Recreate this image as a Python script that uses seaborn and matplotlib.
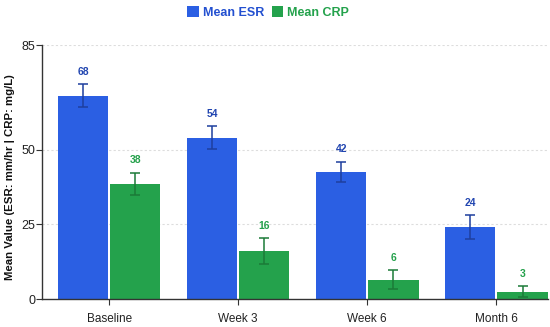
import matplotlib
matplotlib.use("Agg")
import matplotlib.pyplot as plt
import seaborn as sns
import pandas as pd
import numpy as np
from matplotlib.patches import Patch

timepoints = ["Baseline", "Week 3", "Week 6", "Month 6"]
esr_mean = [68, 54, 42.5, 24]
crp_mean = [38.5, 16, 6.5, 2.5]
esr_err = [3.8, 3.9, 3.5, 4.0]
crp_err = [3.8, 4.3, 3.2, 1.8]
esr_labels = ["68", "54", "42", "24"]
crp_labels = ["38", "16", "6", "3"]
series = ["Mean ESR", "Mean CRP"]

blue = "#2b5fe3"
green = "#24a24c"
blue_dark = "#1e3f9e"
green_dark = "#1b7a38"
blue_text = "#2145b0"
green_text = "#23a04a"

df = pd.DataFrame({
    "Timepoint": timepoints * 2,
    "Series": [series[0]] * 4 + [series[1]] * 4,
    "Value": esr_mean + crp_mean,
})

sns.set_theme(style="white")
plt.rcParams["font.family"] = ["Liberation Sans", "DejaVu Sans"]

fig = plt.figure(figsize=(5.5, 3.27), dpi=100)
ax = fig.add_axes([42 / 550, 28 / 327, 506 / 550, 254 / 327])

sns.barplot(data=df, x="Timepoint", y="Value", hue="Series",
            palette=[blue, green], order=timepoints, hue_order=series,
            width=0.81, gap=0.04, errorbar=None, legend=False, ax=ax,
            edgecolor="none", saturation=1)

bar_containers = list(ax.containers)
for i, cont in enumerate(bar_containers):
    means = esr_mean if i == 0 else crp_mean
    errs = esr_err if i == 0 else crp_err
    labs = esr_labels if i == 0 else crp_labels
    ecol = blue_dark if i == 0 else green_dark
    tcol = blue_text if i == 0 else green_text
    for j, bar in enumerate(cont.patches):
        xc = bar.get_x() + bar.get_width() / 2
        ax.errorbar(xc, means[j], yerr=errs[j], color=ecol, capsize=3.3,
                    elinewidth=1.1, capthick=1.1, fmt="none", zorder=4)
        ax.text(xc, means[j] + errs[j] + 2.4, labs[j], ha="center", va="bottom",
                color=tcol, fontsize=7.5, fontweight="bold")

ax.set_ylim(0, 85)
ax.set_xlim(-0.52, 3.40)
ax.set_yticks([0, 25, 50, 85])
ax.set_yticklabels(["0", "25", "50", "85"])
ax.tick_params(axis="y", labelsize=9, length=4, width=0.8, color="#333333", pad=1,
               left=True, labelcolor="#222222")
ax.tick_params(axis="x", labelsize=8.5, length=4, width=0.8, color="#333333", pad=6,
               bottom=True, labelcolor="#222222")
ax.set_xlabel("")
ax.set_ylabel("Mean Value (ESR: mm/hr | CRP: mg/L)", fontsize=8.2, fontweight="bold",
              labelpad=5, color="#111111")
ax.yaxis.set_label_coords(-0.053, 0.48)
for y in [25, 50, 85]:
    ax.axhline(y, color="#dddddd", linestyle=(0, (2, 2)), linewidth=0.8, zorder=0)
for s in ["top", "right"]:
    ax.spines[s].set_visible(False)
for s in ["left", "bottom"]:
    ax.spines[s].set_color("#333333")
    ax.spines[s].set_linewidth(1.0)

handles = [Patch(facecolor=blue, edgecolor="none"), Patch(facecolor=green, edgecolor="none")]
leg = fig.legend(handles, series, loc="upper center", bbox_to_anchor=(0.488, 1.015),
                 ncol=2, frameon=False, handlelength=0.9, handleheight=0.9,
                 handletextpad=0.35, columnspacing=0.6,
                 prop={"weight": "bold", "size": 9})
for t, c in zip(leg.get_texts(), ["#2350d0", green]):
    t.set_color(c)

fig.savefig("out.png", dpi=100)
